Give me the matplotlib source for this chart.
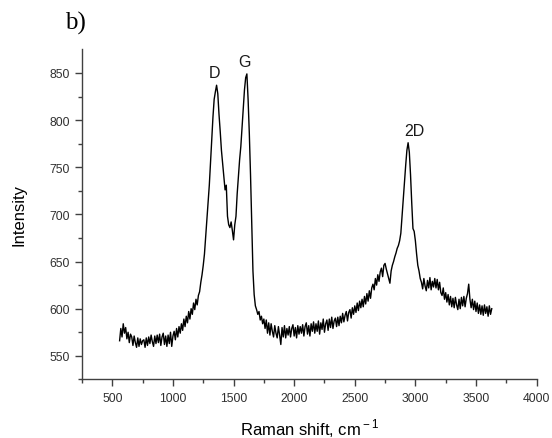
import numpy as np
import matplotlib
matplotlib.use('Agg')
import matplotlib.pyplot as plt

plt.rcParams['font.family'] = ['Liberation Sans', 'DejaVu Sans']
plt.rcParams['mathtext.fontset'] = 'custom'
plt.rcParams['mathtext.rm'] = 'Liberation Sans'

# Raman spectrum, one value every 10 cm-1 from 560 to 3630
shift = np.arange(560, 3640, 10)
intensity = [
	566, 579, 570, 584, 574, 580, 568, 575, 564, 573,   # 560
	570, 561, 571, 564, 559, 569, 560, 568, 562, 566,   # 660
	567, 559, 569, 561, 570, 563, 572, 565, 560, 571,   # 760
	563, 572, 564, 573, 561, 570, 574, 562, 571, 560,   # 860
	572, 563, 575, 560, 571, 576, 567, 579, 570, 581,   # 960
	574, 584, 577, 589, 581, 592, 585, 597, 589, 600,   # 1060
	594, 606, 599, 610, 604, 614, 618, 628, 636, 646,   # 1160
	658, 676, 694, 712, 731, 756, 779, 803, 822, 830,   # 1260
	837, 828, 806, 788, 768, 754, 740, 726, 731, 698,   # 1360
	689, 686, 692, 683, 673, 689, 698, 722, 740, 758,   # 1460
	772, 792, 813, 832, 845, 849, 822, 786, 742, 690,   # 1560
	640, 615, 603, 599, 594, 597, 588, 592, 584, 589,   # 1660
	579, 588, 574, 585, 572, 584, 576, 570, 582, 574,   # 1760
	569, 581, 572, 562, 580, 570, 582, 569, 579, 572,   # 1860
	581, 570, 579, 583, 571, 580, 569, 582, 573, 581,   # 1960
	574, 583, 571, 581, 585, 573, 582, 571, 584, 576,   # 2060
	586, 574, 584, 576, 587, 573, 585, 578, 589, 575,   # 2160
	584, 588, 577, 589, 580, 591, 579, 587, 590, 581,   # 2260
	591, 582, 592, 585, 595, 586, 593, 597, 587, 596,   # 2360
	599, 590, 601, 594, 603, 596, 606, 598, 608, 601,   # 2460
	610, 602, 613, 605, 616, 608, 619, 611, 622, 626,   # 2560
	620, 632, 625, 636, 629, 639, 643, 634, 646, 648,   # 2660
	642, 637, 632, 627, 640, 646, 650, 655, 659, 664,   # 2760
	667, 672, 680, 698, 716, 735, 752, 768, 776, 766,   # 2860
	742, 712, 685, 682, 672, 658, 646, 640, 632, 628,   # 2960
	621, 632, 624, 619, 630, 622, 633, 620, 629, 623,   # 3060
	632, 622, 631, 620, 628, 617, 614, 622, 610, 617,   # 3160
	607, 615, 604, 613, 602, 611, 601, 612, 604, 599,   # 3260
	610, 600, 612, 603, 613, 602, 611, 616, 626, 610,   # 3360
	601, 610, 599, 608, 597, 606, 595, 604, 594, 603,   # 3460
	593, 604, 595, 602, 592, 603, 594, 600,             # 3560
]

peak_names = ['D', 'G', '2D']
peak_x = [1346, 1591, 2988]
peak_y = [851, 862, 789]

xticks = [500, 1000, 1500, 2000, 2500, 3000, 3500, 4000]
yticks = [550, 600, 650, 700, 750, 800, 850]

fig = plt.figure(figsize=(5.52, 4.39), dpi=100)
ax = fig.add_axes([0.1486, 0.1335, 0.8235, 0.7517])

ax.plot(shift, intensity, color='black', lw=1.0)

for name, px, py in zip(peak_names, peak_x, peak_y):
	ax.text(px, py, name, ha='center', va='center', fontsize=11.5, color='#1a1a1a')

ax.set_xlim(250, 4000)
ax.set_ylim(525, 875)
ax.set_xticks(xticks)
ax.set_yticks(yticks)
ax.set_xticks(np.arange(250, 4000, 250), minor=True)
ax.set_yticks(np.arange(525, 875, 25), minor=True)

for side in ['top', 'right']:
	ax.spines[side].set_visible(False)
for side in ['left', 'bottom']:
	ax.spines[side].set_color('#404040')
	ax.spines[side].set_linewidth(1.0)

ax.tick_params(which='major', direction='out', length=5, width=1.0,
	color='#404040', labelsize=8.8, labelcolor='#303030', pad=4)
ax.tick_params(which='minor', direction='out', length=3, width=1.0, color='#404040')

ax.set_xlabel(r'Raman shift, cm$^{\rm -1}$', fontsize=12, labelpad=9)
ax.set_ylabel('Intensity', fontsize=12, labelpad=16)

fig.text(0.118, 0.932, 'b)', family=['Liberation Serif', 'DejaVu Serif'],
	fontsize=18, va='baseline', ha='left')

fig.savefig('out.png', dpi=100)
